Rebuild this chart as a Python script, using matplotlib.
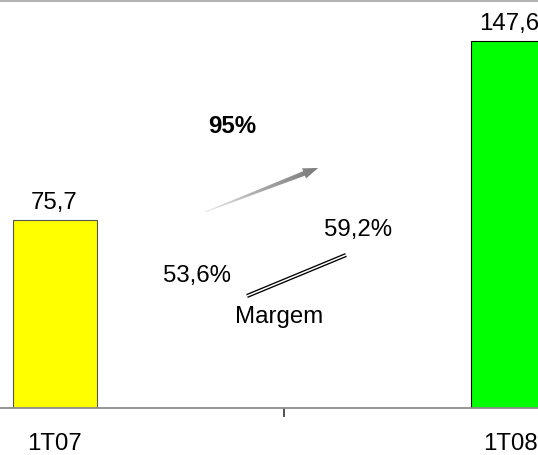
import numpy as np
import matplotlib
matplotlib.use("Agg")
import matplotlib.pyplot as plt
from matplotlib.patches import Polygon, Rectangle
from matplotlib.colors import LinearSegmentedColormap

# data
periods = ["1T07", "1T08"]
values = [75.7, 147.6]
value_labels = ["75,7", "147,6"]
bar_colors = ["#ffff00", "#00ff00"]
edge_colors = ["#555555", "#000000"]
growth_label = "95%"
margin_labels = ["53,6%", "59,2%"]
margin_title = "Margem"

W, H = 538, 456
plt.rcParams["font.family"] = ["Liberation Sans", "DejaVu Sans"]
FS = 17.3

fig = plt.figure(figsize=(W / 100, H / 100), dpi=100)

# main axes: baseline at y=409 px, top at y=3 px
ax = fig.add_axes([0, (H - 409) / H, 1, 406 / H])
ax.bar(range(len(values)), values, width=0.1832, color=bar_colors,
       edgecolor=edge_colors, linewidth=0.8, zorder=2)
ax.set_xlim(-0.1189, 1.0545)
ax.set_ylim(0, 163.4)

for sp in ["top", "left", "right"]:
    ax.spines[sp].set_visible(False)
ax.spines["bottom"].set_color("#8c8c8c")
ax.spines["bottom"].set_linewidth(1.3)
ax.set_yticks([])
ax.set_xticks([])
ax.set_xticks([0.5], minor=True)
ax.tick_params(axis="x", which="minor", direction="out", length=6.5,
               width=1.1, color="#222222", labelbottom=False)

# last labels nudged left a little so they stay inside the picture
nudge = [0, -3]
for i, (v, lab) in enumerate(zip(values, value_labels)):
    ax.annotate(lab, (i, v), xytext=(nudge[i], 8.8), textcoords="offset points",
                ha="center", va="baseline", fontsize=FS, color="#000000",
                annotation_clip=False)
for i, p in enumerate(periods):
    ax.annotate(p, (i, 0), xytext=(nudge[i] * 0.5, -29.5), textcoords="offset points",
                ha="center", va="baseline", fontsize=FS, color="#000000",
                annotation_clip=False)

# overlay in pixel coordinates for decorations
ov = fig.add_axes([0, 0, 1, 1], zorder=5)
ov.set_xlim(0, W)
ov.set_ylim(H, 0)
ov.axis("off")
ov.patch.set_alpha(0)

# grey band at the top
ov.add_patch(Rectangle((0, 0), W, 3.4, color="#b3b3b3", lw=0))

# texts
ov.text(232, 133, growth_label, ha="center", va="baseline", fontsize=FS,
        fontweight="bold", color="#000000")
ov.text(197, 282, margin_labels[0], ha="center", va="baseline", fontsize=FS,
        color="#000000")
ov.text(358, 236, margin_labels[1], ha="center", va="baseline", fontsize=FS,
        color="#000000")
ov.text(279, 323, margin_title, ha="center", va="baseline", fontsize=FS,
        color="#000000")

# gradient arrow
tail = np.array([205.0, 213.0])
tip = np.array([318.0, 169.0])
d = tip - tail
L = np.hypot(*d)
u = d / L
n = np.array([-u[1], u[0]])
base = tail + u * (L - 15)
pts = [tail + n * 0.4, base + n * 2.4, base + n * 5.5, tip,
       base - n * 5.5, base - n * 2.4, tail - n * 0.4]
poly = Polygon(pts, closed=True, facecolor="none", edgecolor="none")
ov.add_patch(poly)
xs = np.linspace(0, 1, 200)
grad = np.tile(xs, (20, 1))
cmap = LinearSegmentedColormap.from_list("g", ["#e8e8e8", "#a8a8a8", "#7a7a7a"])
im = ov.imshow(grad, cmap=cmap,
               extent=(tail[0], tip[0], tail[1] + 8, tip[1] - 8), aspect="auto",
               interpolation="bilinear", zorder=3)
im.set_clip_path(poly)
ov.set_xlim(0, W)
ov.set_ylim(H, 0)

# double line
ov.plot([247, 346], [297, 256], color="#000000", lw=3.0, solid_capstyle="butt")
ov.plot([247, 346], [297, 256], color="white", lw=1.1, solid_capstyle="butt")

fig.savefig("out.png", dpi=100)
